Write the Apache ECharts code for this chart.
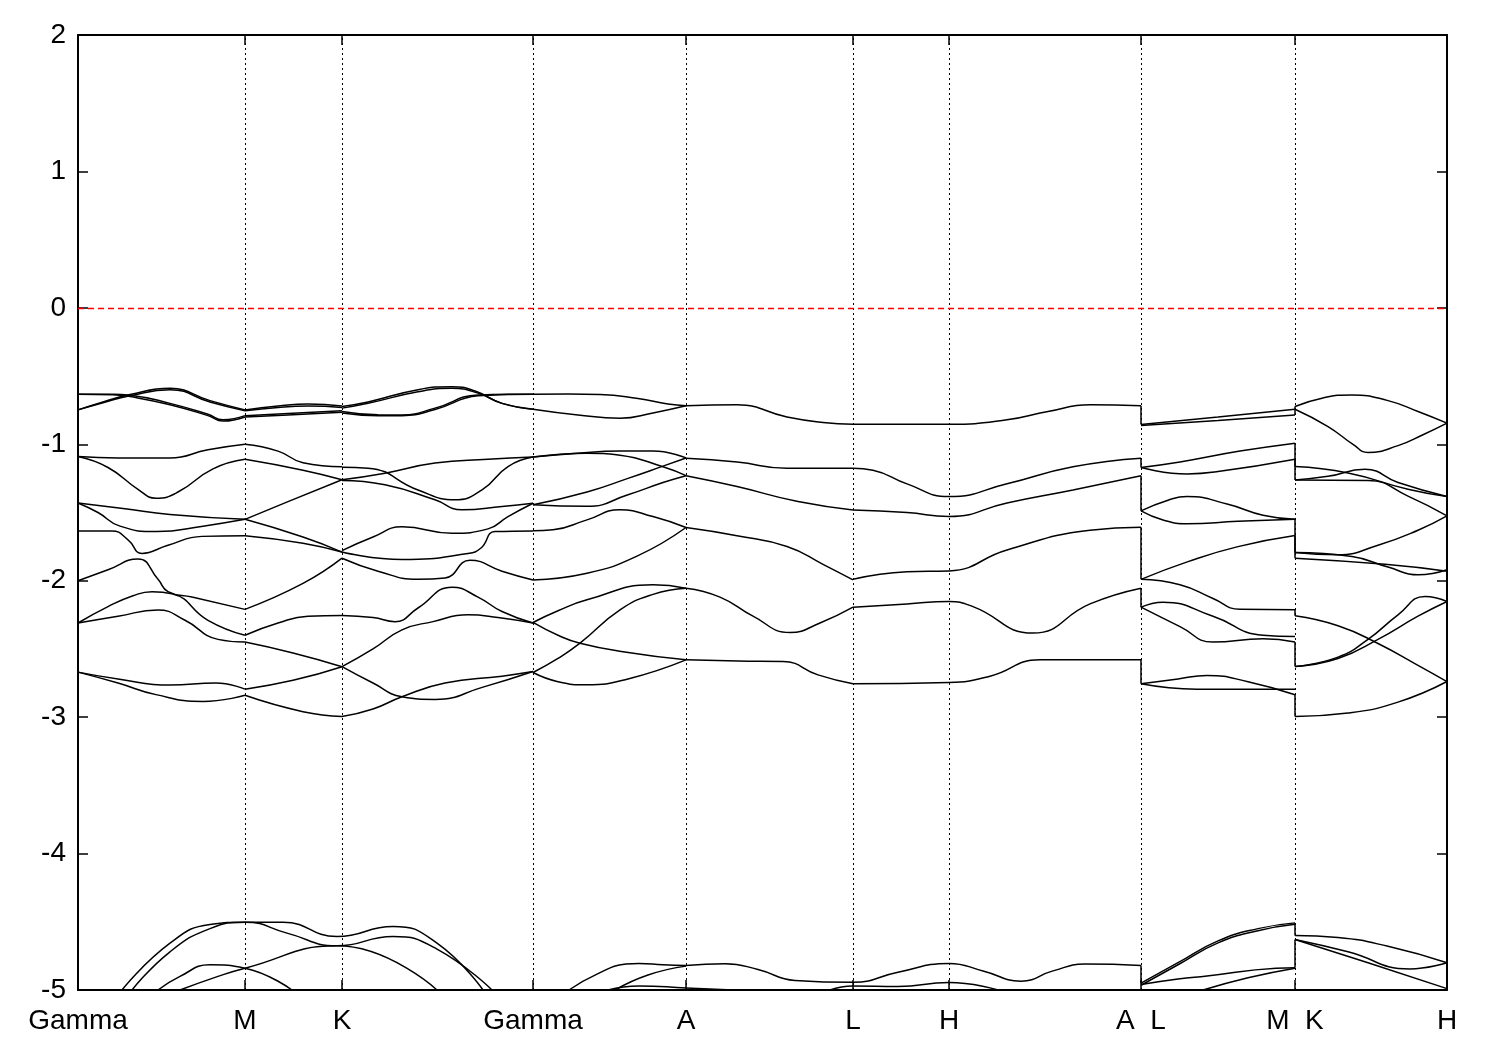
<!DOCTYPE html>
<html><head><meta charset="utf-8">
<script src="https://cdn.jsdelivr.net/npm/echarts@6/dist/echarts.min.js"></script>
<style>html,body{margin:0;padding:0;background:#fff}#c{width:1500px;height:1050px}</style>
</head><body><div id="c"></div>
<script>
// k-path positions of high-symmetry points and their labels
const kTicks = [0, 167, 264, 455, 608, 775, 871, 1063, 1217, 1369];
const kLabels = ['Gamma', 'M', 'K', 'Gamma', 'A', 'L', 'H', 'A  L', 'M  K', 'H'];
const yMin = -5, yMax = 2, yStep = 1;
const fermiLevel = 0;

// Bands, Gamma -> M  ([k, E(eV)])
const bandsGM = [
  [[0,-0.748],[25,-0.69],[52,-0.635],[92,-0.59],[132,-0.68],[167,-0.748]],
  [[0,-0.748],[25,-0.695],[52,-0.645],[92,-0.60],[132,-0.69],[167,-0.755]],
  [[0,-0.633],[35,-0.633],[52,-0.64],[92,-0.70],[130,-0.78],[145,-0.82],[167,-0.79]],
  [[0,-0.633],[35,-0.636],[52,-0.65],[92,-0.71],[130,-0.79],[145,-0.83],[167,-0.80]],
  [[0,-1.09],[40,-1.10],[92,-1.10],[130,-1.04],[167,-1.0]],
  [[0,-1.09],[30,-1.17],[60,-1.33],[78,-1.395],[100,-1.35],[135,-1.18],[167,-1.11]],
  [[0,-1.43],[45,-1.47],[92,-1.515],[167,-1.55]],
  [[0,-1.43],[20,-1.50],[42,-1.60],[79,-1.64],[125,-1.60],[167,-1.55]],
  [[0,-1.635],[34,-1.635],[50,-1.70],[64,-1.80],[90,-1.74],[124,-1.675],[167,-1.67]],
  [[0,-2.0],[30,-1.92],[60,-1.84],[80,-1.99],[90,-2.08],[114,-2.12],[167,-2.21]],
  [[0,-2.31],[30,-2.19],[55,-2.11],[74,-2.08],[94,-2.095],[130,-2.29],[167,-2.40]],
  [[0,-2.31],[40,-2.26],[80,-2.215],[107,-2.29],[140,-2.43],[167,-2.45]],
  [[0,-2.67],[40,-2.72],[92,-2.765],[138,-2.75],[167,-2.795]],
  [[0,-2.67],[40,-2.75],[78,-2.835],[125,-2.885],[167,-2.84]]
];
// M -> K
const bandsMK = [
  [[167,-0.748],[200,-0.72],[230,-0.705],[264,-0.72]],
  [[167,-0.755],[200,-0.73],[230,-0.72],[264,-0.73]],
  [[167,-0.79],[210,-0.775],[264,-0.755]],
  [[167,-0.80],[210,-0.785],[264,-0.765]],
  [[167,-1.0],[200,-1.05],[225,-1.135],[264,-1.165]],
  [[167,-1.11],[225,-1.19],[264,-1.26]],
  [[167,-1.55],[210,-1.42],[264,-1.26]],
  [[167,-1.55],[225,-1.68],[264,-1.79]],
  [[167,-1.67],[225,-1.725],[264,-1.79]],
  [[167,-2.21],[225,-2.02],[264,-1.835]],
  [[167,-2.40],[200,-2.31],[230,-2.26],[264,-2.255]],
  [[167,-2.45],[215,-2.53],[264,-2.63]],
  [[167,-2.795],[215,-2.73],[264,-2.63]],
  [[167,-2.84],[225,-2.96],[264,-2.995]]
];
// K -> Gamma
const bandsKG = [
  [[264,-0.723],[290,-0.69],[340,-0.60],[374,-0.578],[397,-0.61],[424,-0.70],[455,-0.743]],
  [[264,-0.735],[290,-0.70],[340,-0.615],[374,-0.59],[400,-0.625],[424,-0.70],[455,-0.743]],
  [[264,-0.76],[300,-0.784],[324,-0.785],[357,-0.735],[400,-0.638],[430,-0.633],[455,-0.633]],
  [[264,-0.77],[300,-0.79],[324,-0.79],[357,-0.745],[400,-0.645],[430,-0.635],[455,-0.633]],
  [[264,-1.168],[290,-1.175],[340,-1.335],[377,-1.407],[404,-1.334],[430,-1.163],[455,-1.094]],
  [[264,-1.26],[307,-1.212],[357,-1.138],[410,-1.11],[455,-1.094]],
  [[264,-1.265],[307,-1.297],[357,-1.407],[384,-1.48],[424,-1.456],[455,-1.432]],
  [[264,-1.779],[295,-1.68],[324,-1.605],[374,-1.652],[410,-1.62],[430,-1.53],[455,-1.432]],
  [[264,-1.79],[324,-1.845],[390,-1.80],[403,-1.76],[417,-1.64],[455,-1.635]],
  [[264,-1.835],[300,-1.93],[340,-1.99],[367,-1.98],[392,-1.85],[424,-1.93],[455,-1.995]],
  [[264,-2.255],[295,-2.27],[317,-2.30],[340,-2.20],[374,-2.047],[400,-2.12],[424,-2.226],[455,-2.31]],
  [[264,-2.63],[295,-2.50],[324,-2.36],[355,-2.30],[390,-2.25],[420,-2.27],[455,-2.31]],
  [[264,-2.63],[295,-2.75],[324,-2.85],[357,-2.87],[405,-2.78],[455,-2.666]],
  [[264,-2.995],[295,-2.94],[324,-2.85],[367,-2.75],[424,-2.70],[455,-2.666]]
];
// Gamma -> A
const bandsGA = [
  [[455,-0.633],[490,-0.632],[522,-0.635],[560,-0.665],[590,-0.705],[608,-0.718]],
  [[455,-0.743],[500,-0.785],[542,-0.809],[575,-0.77],[608,-0.718]],
  [[455,-1.094],[500,-1.065],[542,-1.05],[575,-1.05],[608,-1.10]],
  [[455,-1.094],[509,-1.065],[542,-1.08],[585,-1.165],[608,-1.23]],
  [[455,-1.444],[509,-1.35],[550,-1.25],[585,-1.16],[608,-1.10]],
  [[455,-1.444],[509,-1.455],[550,-1.37],[585,-1.28],[608,-1.23]],
  [[455,-1.634],[475,-1.627],[509,-1.554],[542,-1.48],[575,-1.53],[608,-1.61]],
  [[455,-1.994],[509,-1.945],[559,-1.82],[608,-1.61]],
  [[455,-2.306],[480,-2.22],[509,-2.14],[575,-2.03],[608,-2.055]],
  [[455,-2.306],[480,-2.40],[502,-2.458],[545,-2.52],[608,-2.58]],
  [[455,-2.673],[480,-2.57],[502,-2.458],[542,-2.214],[575,-2.10],[608,-2.055]],
  [[455,-2.673],[480,-2.74],[509,-2.763],[550,-2.72],[608,-2.58]]
];
// A -> L
const bandsAL = [
  [[608,-0.718],[659,-0.711],[709,-0.80],[745,-0.84],[775,-0.853]],
  [[608,-1.102],[659,-1.13],[709,-1.175],[775,-1.175]],
  [[608,-1.231],[659,-1.31],[720,-1.42],[775,-1.481]],
  [[608,-1.61],[659,-1.67],[709,-1.749],[745,-1.88],[775,-1.994]],
  [[608,-2.055],[642,-2.12],[675,-2.26],[712,-2.38],[742,-2.31],[775,-2.194]],
  [[608,-2.58],[660,-2.588],[705,-2.592],[740,-2.69],[775,-2.756]]
];
// L -> H -> A
const bandsLHA = [
  [[775,-0.853],[871,-0.853],[929,-0.821],[970,-0.76],[1012,-0.711],[1063,-0.718]],
  [[775,-1.175],[795,-1.19],[829,-1.29],[871,-1.383],[929,-1.29],[995,-1.165],[1063,-1.102]],
  [[775,-1.481],[829,-1.50],[871,-1.529],[929,-1.43],[995,-1.335],[1063,-1.231]],
  [[775,-1.99],[829,-1.935],[871,-1.928],[929,-1.775],[1012,-1.63],[1063,-1.608]],
  [[775,-2.194],[829,-2.17],[871,-2.152],[895,-2.19],[955,-2.384],[1012,-2.17],[1063,-2.055]],
  [[775,-2.756],[871,-2.746],[912,-2.70],[962,-2.58],[1063,-2.58]]
];
// L -> M
const bandsLM = [
  [[1063,-0.855],[1140,-0.80],[1217,-0.743]],
  [[1063,-0.862],[1140,-0.825],[1217,-0.785]],
  [[1063,-1.17],[1102,-1.13],[1162,-1.05],[1217,-0.992]],
  [[1063,-1.17],[1109,-1.217],[1140,-1.20],[1217,-1.109]],
  [[1063,-1.488],[1090,-1.41],[1109,-1.383],[1150,-1.44],[1185,-1.52],[1217,-1.55]],
  [[1063,-1.488],[1085,-1.555],[1109,-1.583],[1160,-1.565],[1217,-1.55]],
  [[1063,-1.99],[1110,-1.86],[1160,-1.75],[1217,-1.669]],
  [[1063,-1.99],[1102,-2.03],[1135,-2.13],[1162,-2.21],[1217,-2.213]],
  [[1063,-2.194],[1085,-2.157],[1135,-2.26],[1185,-2.40],[1217,-2.409]],
  [[1063,-2.194],[1102,-2.336],[1135,-2.45],[1185,-2.425],[1217,-2.45]],
  [[1063,-2.756],[1100,-2.72],[1129,-2.695],[1170,-2.74],[1217,-2.836]],
  [[1063,-2.756],[1119,-2.795],[1217,-2.795]]
];
// K -> H
const bandsKH = [
  [[1217,-0.723],[1245,-0.66],[1274,-0.638],[1310,-0.68],[1340,-0.76],[1369,-0.845]],
  [[1217,-0.743],[1250,-0.87],[1275,-1.00],[1290,-1.06],[1320,-1.01],[1345,-0.93],[1369,-0.845]],
  [[1217,-1.163],[1270,-1.21],[1330,-1.33],[1369,-1.383]],
  [[1217,-1.261],[1250,-1.235],[1287,-1.183],[1320,-1.28],[1369,-1.383]],
  [[1217,-1.261],[1290,-1.265],[1330,-1.38],[1369,-1.525]],
  [[1217,-1.793],[1260,-1.81],[1300,-1.74],[1340,-1.63],[1369,-1.525]],
  [[1217,-1.793],[1274,-1.823],[1310,-1.90],[1340,-1.957],[1369,-1.92]],
  [[1217,-1.835],[1307,-1.88],[1369,-1.93]],
  [[1217,-2.257],[1260,-2.33],[1300,-2.46],[1340,-2.62],[1369,-2.739]],
  [[1217,-2.629],[1260,-2.56],[1290,-2.43],[1320,-2.25],[1347,-2.116],[1369,-2.152]],
  [[1217,-2.629],[1260,-2.57],[1300,-2.43],[1340,-2.26],[1369,-2.152]],
  [[1217,-2.995],[1270,-2.97],[1320,-2.89],[1369,-2.739]]
];
// Deeper bands near -4.5 .. -5
const bandsLow = [
  [[44,-5.0],[92,-4.657],[132,-4.52],[167,-4.503],[205,-4.503],[259,-4.608],[315,-4.534],[359,-4.657],[405,-5.0]],
  [[54,-5.0],[92,-4.72],[132,-4.55],[167,-4.503],[209,-4.583],[259,-4.676],[315,-4.608],[359,-4.70],[414,-5.0]],
  [[80,-5.0],[102,-4.90],[132,-4.815],[167,-4.84],[214,-5.0]],
  [[102,-5.0],[140,-4.90],[167,-4.84],[259,-4.676],[359,-5.0]],
  [[491,-5.0],[520,-4.88],[548,-4.81],[561,-4.805],[585,-4.815],[608,-4.82]],
  [[537,-5.0],[570,-4.89],[608,-4.825]],
  [[608,-4.82],[647,-4.807],[680,-4.85],[717,-4.93],[775,-4.944],[820,-4.87],[871,-4.805],[905,-4.86],[943,-4.935],[975,-4.86],[1007,-4.81],[1063,-4.82]],
  [[530,-5.0],[561,-4.97],[608,-4.985],[655,-5.0]],
  [[752,-5.0],[775,-4.97],[820,-4.975],[871,-4.945],[920,-5.0]],
  [[1063,-4.95],[1100,-4.80],[1140,-4.64],[1180,-4.55],[1217,-4.508]],
  [[1063,-4.965],[1100,-4.815],[1140,-4.655],[1180,-4.565],[1217,-4.518]],
  [[1063,-4.96],[1100,-4.92],[1129,-4.897],[1198,-4.84],[1217,-4.836]],
  [[1125,-5.0],[1170,-4.91],[1217,-4.84]],
  [[1217,-4.60],[1260,-4.615],[1310,-4.68],[1369,-4.80]],
  [[1217,-4.63],[1270,-4.72],[1332,-4.846],[1369,-4.80]],
  [[1217,-4.63],[1290,-4.80],[1369,-4.99]]
];
// Vertical connections at the path breaks (energy left, energy right)
const jumpAL = [[-0.718,-0.855],[-1.102,-1.17],[-1.231,-1.488],[-1.608,-1.99],[-2.055,-2.194],[-2.58,-2.756],[-4.82,-4.95]];
const jumpMK = [[-0.743,-0.723],[-0.785,-0.743],[-0.992,-1.163],[-1.109,-1.261],[-1.55,-1.793],[-1.669,-1.835],[-2.213,-2.257],[-2.45,-2.629],[-2.836,-2.995],[-4.508,-4.60],[-4.836,-4.63]];

const series = [];
function addCurves(list) {
  list.forEach(pts => series.push({
    type: 'line', data: pts, smooth: 0.5, symbol: 'none',
    lineStyle: { color: '#000', width: 1.5 }, silent: true, animation: false, clip: true, z: 3
  }));
}
[bandsGM, bandsMK, bandsKG, bandsGA, bandsAL, bandsLHA, bandsLM, bandsKH, bandsLow].forEach(addCurves);
function addJumps(k, list) {
  list.forEach(p => series.push({
    type: 'line', data: [[k, p[0]], [k, p[1]]], symbol: 'none',
    lineStyle: { color: '#000', width: 1.5 }, silent: true, animation: false, z: 3
  }));
}
addJumps(kTicks[7], jumpAL);
addJumps(kTicks[8], jumpMK);

// guide lines
series.push({
  type: 'line', data: [], silent: true, animation: false,
  markLine: {
    silent: true, symbol: 'none', animation: false, label: { show: false },
    data: kTicks.slice(1, -1).map(k => ({ xAxis: k, lineStyle: { color: '#000', width: 1, type: [2, 3] } }))
      .concat([{ yAxis: fermiLevel, lineStyle: { color: '#ff0000', width: 1.3, type: [6, 4] } }])
  }
});

const font = { color: '#000', fontSize: 28, fontFamily: 'Liberation Sans, Arial, sans-serif' };
const axisLine = { show: true, onZero: false, lineStyle: { color: '#000', width: 2 } };
const xTick = { inside: true, length: 10, customValues: kTicks, lineStyle: { color: '#000', width: 1.5 } };
const yTick = { inside: true, length: 10, lineStyle: { color: '#000', width: 1.5 } };

const option = {
  animation: false,
  backgroundColor: '#fff',
  grid: { left: 78, right: 53, top: 35, bottom: 60, containLabel: false },
  xAxis: [
    { type: 'value', min: 0, max: kTicks[kTicks.length - 1], position: 'bottom', axisLine, axisTick: xTick,
      axisLabel: Object.assign({ customValues: kTicks, margin: 17, formatter: v => kLabels[kTicks.indexOf(v)] || '' }, font),
      splitLine: { show: false } },
    { type: 'value', min: 0, max: kTicks[kTicks.length - 1], position: 'top', axisLine, axisTick: xTick,
      axisLabel: { show: false }, splitLine: { show: false } }
  ],
  yAxis: [
    { type: 'value', min: yMin, max: yMax, interval: yStep, position: 'left', axisLine, axisTick: yTick,
      axisLabel: Object.assign({ margin: 12 }, font), splitLine: { show: false } },
    { type: 'value', min: yMin, max: yMax, interval: yStep, position: 'right', axisLine, axisTick: yTick,
      axisLabel: { show: false }, splitLine: { show: false } }
  ],
  series
};
const chart = echarts.init(document.getElementById('c'));
chart.setOption(option);
</script>
</body></html>
